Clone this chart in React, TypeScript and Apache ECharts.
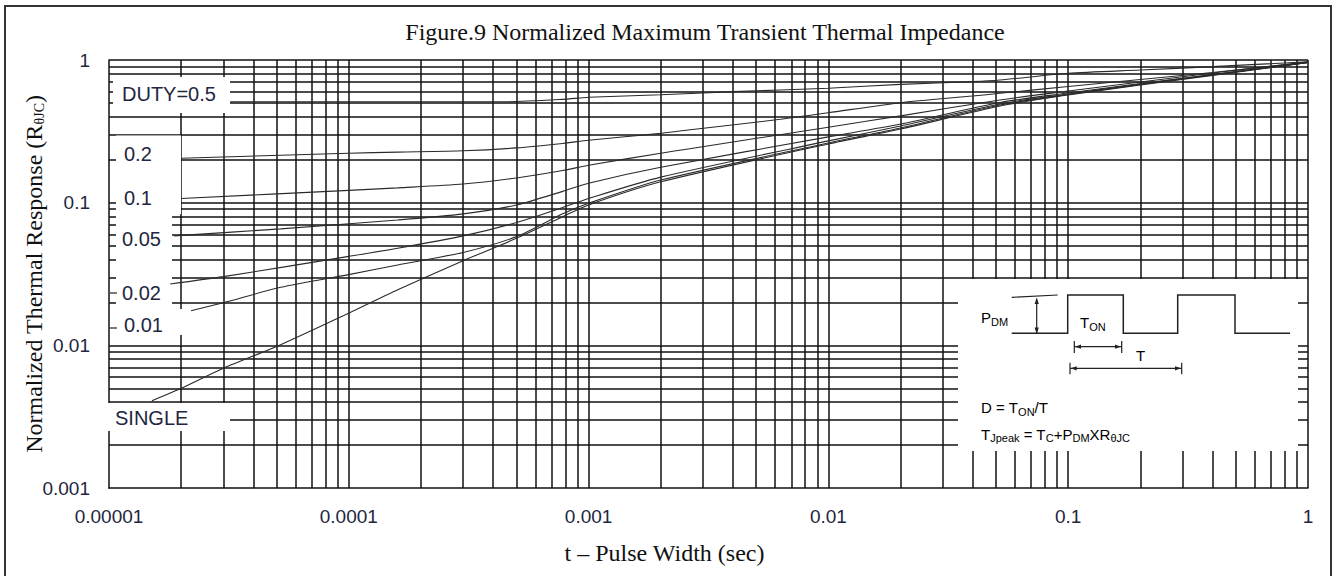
import React, { useEffect, useRef } from "react";
import * as echarts from "echarts";

const TITLE = "Figure.9 Normalized Maximum Transient Thermal Impedance";
const X_NAME = "t – Pulse Width (sec)";
const Y_NAME = "{a|Normalized Thermal Response (R}{b|θJC}{a|)}";
const xTickLabels = ["0.00001", "0.0001", "0.001", "0.01", "0.1", "1"];
const yTickLabels = ["0.001", "0.01", "0.1", "1"];
const gridSteps = [1, 2, 3, 4, 5, 6, 7, 8, 9];
const xDecades = [-5, -4, -3, -2, -1];
const yDecades = [-3, -2, -1];

// [pulse width (s), normalized response]
const duty05 = [[3.2e-5, 0.51], [1e-4, 0.51], [4.5e-4, 0.51], [7.8e-4, 0.53], [1e-3, 0.548], [2e-3, 0.571], [4e-3, 0.6], [1e-2, 0.634], [2e-2, 0.675], [4e-2, 0.705], [5.2e-2, 0.724], [0.1, 0.807], [0.2, 0.851], [0.4, 0.898], [1, 0.973]];
const duty02 = [[2e-5, 0.205], [1e-4, 0.222], [1.6e-4, 0.226], [3e-4, 0.231], [5e-4, 0.242], [7.8e-4, 0.26], [1e-3, 0.274], [2e-3, 0.306], [2.6e-3, 0.323], [6.3e-3, 0.384], [1e-2, 0.427], [2e-2, 0.502], [4e-2, 0.559], [5.2e-2, 0.584], [0.1, 0.652], [0.2, 0.73], [0.4, 0.817], [1, 0.968]];
const duty01 = [[2e-5, 0.107], [1e-4, 0.122], [1.6e-4, 0.127], [3e-4, 0.135], [5e-4, 0.149], [7.8e-4, 0.168], [1e-3, 0.183], [2e-3, 0.222], [2.6e-3, 0.238], [1e-2, 0.338], [2e-2, 0.406], [5.2e-2, 0.525], [0.1, 0.606], [0.2, 0.701], [0.4, 0.811], [1, 0.968]];
const duty005 = [[1.87e-5, 0.0585], [5.2e-5, 0.0655], [1.6e-4, 0.0756], [3e-4, 0.0834], [5e-4, 0.0964], [7.8e-4, 0.12], [1e-3, 0.137], [2e-3, 0.177], [1e-2, 0.289], [2e-2, 0.356], [5.2e-2, 0.504], [0.1, 0.587], [0.2, 0.684], [0.4, 0.79], [1, 0.963]];
const duty002 = [[1.8e-5, 0.0269], [3e-5, 0.0303], [1e-4, 0.042], [1.6e-4, 0.0479], [3e-4, 0.0585], [5e-4, 0.0725], [7.8e-4, 0.0925], [1e-3, 0.107], [2e-3, 0.151], [1e-2, 0.271], [2e-2, 0.345], [5.2e-2, 0.492], [0.1, 0.578], [0.2, 0.679], [0.4, 0.79], [1, 0.963]];
const duty001 = [[2.2e-5, 0.0175], [3e-5, 0.0199], [5.2e-5, 0.0255], [1e-4, 0.0313], [1.6e-4, 0.0366], [3e-4, 0.0448], [5e-4, 0.0578], [7.8e-4, 0.0835], [1e-3, 0.099], [2e-3, 0.144], [1e-2, 0.262], [2e-2, 0.334], [5.2e-2, 0.484], [0.1, 0.573], [0.2, 0.674], [0.4, 0.785], [1, 0.96]];
const single = [[1.51e-5, 0.00409], [2e-5, 0.005], [3e-5, 0.00691], [5.2e-5, 0.0101], [1e-4, 0.0168], [1.6e-4, 0.0245], [3e-4, 0.0392], [5e-4, 0.0563], [7.8e-4, 0.0798], [1e-3, 0.0964], [2e-3, 0.14], [1e-2, 0.258], [2e-2, 0.328], [5.2e-2, 0.476], [0.1, 0.569], [0.2, 0.668], [0.4, 0.78], [1, 0.96]];

const curveNames = ["DUTY=0.5", "0.2", "0.1", "0.05", "0.02", "0.01", "SINGLE"];
const curveData = [duty05, duty02, duty01, duty005, duty002, duty001, single];

const INK = "#111";
const LABEL_INK = "#1e2640";
const SANS = "Liberation Sans";
const SERIF = "Liberation Serif";

export default function App() {
  const ref = useRef<HTMLDivElement>(null);

  useEffect(() => {
    if (!ref.current) return;
    const chart = echarts.init(ref.current, undefined, { renderer: "svg" });

    const xGrid: number[] = [];
    xDecades.forEach((e) => gridSteps.forEach((m) => { if (!(e === -5 && m === 1)) xGrid.push(m * Math.pow(10, e)); }));
    xGrid.push(1);
    const yGrid: number[] = [];
    yDecades.forEach((e) => gridSteps.forEach((m) => { if (!(e === -3 && m === 1)) yGrid.push(m * Math.pow(10, e)); }));
    yGrid.push(1);

    const gridSeries = {
      type: "line",
      name: "grid",
      data: [],
      silent: true,
      z: 1,
      markLine: {
        z: 1,
        silent: true,
        precision: 12,
        symbol: ["none", "none"],
        label: { show: false },
        animation: false,
        lineStyle: { color: INK, width: 1.5, type: "solid" },
        emphasis: { disabled: true },
        data: [
          ...xGrid.map((v) => ({ xAxis: v })),
          ...yGrid.map((v) => ({ yAxis: v })),
        ],
      },
    };

    const curveSeries = curveData.map((d, i) => ({
      type: "line",
      name: curveNames[i],
      data: d,
      showSymbol: false,
      symbol: "none",
      smooth: 0.25,
      silent: true,
      z: 6,
      lineStyle: { color: "#2a2a2a", width: 1.1 },
    }));

    const insetRich = {
      m: { fontFamily: SANS, fontSize: 15, color: "#1a1a1a", lineHeight: 18, verticalAlign: "top" },
      s: { fontFamily: SANS, fontSize: 11, color: "#1a1a1a", lineHeight: 18, verticalAlign: "top", padding: [6, 0, 0, 0] },
    };

    const white = (x: number, y: number, w: number, h: number) => ({
      type: "rect", silent: true, z: 4,
      shape: { x, y, width: w, height: h },
      style: { fill: "#fff", stroke: null },
    });
    const curveLabel = (text: string, x: number, y: number) => ({
      type: "text", silent: true, z: 10, x, y,
      style: { text, fontFamily: SANS, fontSize: 20, fill: LABEL_INK, verticalAlign: "middle", align: "left" },
    });
    const insetText = (text: string, x: number, y: number) => ({
      type: "text", silent: true, z: 10, x, y,
      style: { text, rich: insetRich, verticalAlign: "top", align: "left" },
    });
    const seg = (pts: number[][], w = 1.4) => ({
      type: "polyline", silent: true, z: 10,
      shape: { points: pts },
      style: { stroke: "#222", lineWidth: w, fill: null },
    });
    const head = (pts: number[][]) => ({
      type: "polygon", silent: true, z: 10,
      shape: { points: pts },
      style: { fill: "#222", stroke: null },
    });

    const graphicElements = [
      // outer frame
      { type: "rect", silent: true, z: 0, shape: { x: 5, y: 6, width: 1326, height: 590 }, style: { fill: null, stroke: "#333", lineWidth: 2 } },
      // label boxes that hide the grid
      white(113, 77, 117, 36),
      white(116, 135.5, 65, 78.5),
      white(116, 216, 56, 93),
      white(113, 309, 72, 26),
      white(104, 403, 126, 28),
      // inset box
      white(958, 279, 340, 172),
      curveLabel("DUTY=0.5", 122, 94),
      curveLabel("0.2", 124, 154),
      curveLabel("0.1", 124, 198),
      curveLabel("0.05", 122, 239),
      curveLabel("0.02", 122, 293),
      curveLabel("0.01", 124, 325),
      curveLabel("SINGLE", 115, 418),
      seg([[110, 293], [117, 293]], 1.2),
      seg([[110, 328], [117, 328]], 1.2),
      // pulse waveform
      seg([[1011.7, 333.3], [1067.7, 333.3], [1067.7, 295], [1123.3, 295], [1123.3, 333.3], [1177.7, 333.3], [1177.7, 295], [1235, 295], [1235, 333.3], [1290, 333.3]], 1.5),
      seg([[1011.7, 297.3], [1057.7, 295]], 1.2),
      seg([[1036.7, 299], [1036.7, 333]], 1.2),
      head([[1036.7, 297.5], [1034.6, 304], [1038.8, 304]]),
      head([[1036.7, 334], [1034.6, 327.5], [1038.8, 327.5]]),
      seg([[1074.3, 346.7], [1121.7, 346.7]], 1.2),
      seg([[1074.3, 341], [1074.3, 353]], 1.2),
      seg([[1121.7, 341], [1121.7, 353]], 1.2),
      head([[1075, 346.7], [1081, 344.6], [1081, 348.8]]),
      head([[1121, 346.7], [1115, 344.6], [1115, 348.8]]),
      seg([[1070, 368.3], [1181.7, 368.3]], 1.2),
      seg([[1070, 362.7], [1070, 374.3]], 1.2),
      seg([[1181.7, 362.7], [1181.7, 374.3]], 1.2),
      head([[1070.7, 368.3], [1076.7, 366.2], [1076.7, 370.4]]),
      head([[1181, 368.3], [1175, 366.2], [1175, 370.4]]),
      insetText("{m|P}{s|DM}", 981, 310),
      insetText("{m|T}{s|ON}", 1080, 315),
      insetText("{m|T}", 1136, 348),
      insetText("{m|D = T}{s|ON}{m|/T}", 981, 400),
      insetText("{m|T}{s|Jpeak}{m| = T}{s|C}{m|+P}{s|DM}{m|XR}{s|θJC}", 981, 426.5),
    ];

    const option = {
      animation: false,
      title: {
        text: TITLE,
        left: 700,
        top: 15,
        textAlign: "center",
        textStyle: { fontFamily: SERIF, fontSize: 24, fontWeight: "normal", color: INK },
      },
      grid: { left: 109, top: 60, right: 30, bottom: 88, show: false },
      xAxis: {
        type: "log",
        logBase: 10,
        min: 1e-5,
        max: 1,
        z: 1,
        name: X_NAME,
        nameLocation: "middle",
        nameGap: 53,
        nameMoveOverlap: false,
        nameTextStyle: { fontFamily: SERIF, fontSize: 24, color: INK, padding: [0, 88, 0, 0] },
        axisLine: { show: true, lineStyle: { color: INK, width: 1.5 } },
        axisTick: { show: false },
        splitLine: { show: false },
        axisLabel: {
          margin: 19,
          fontFamily: SANS,
          fontSize: 19,
          color: LABEL_INK,
          showMinLabel: true,
          showMaxLabel: true,
          formatter: (v: number) => xTickLabels[Math.round(Math.log10(v)) + 5] ?? "",
        },
      },
      yAxis: {
        type: "log",
        logBase: 10,
        min: 0.001,
        max: 1,
        z: 1,
        name: Y_NAME,
        nameLocation: "middle",
        nameGap: 60,
        nameMoveOverlap: false,
        nameTextStyle: {
          rich: {
            a: { fontFamily: SERIF, fontSize: 24, color: INK, lineHeight: 27, verticalAlign: "top" },
            b: { fontFamily: SERIF, fontSize: 14, color: INK, lineHeight: 18, verticalAlign: "top", padding: [10, 0, 0, 0] },
          },
        },
        axisLine: { show: true, lineStyle: { color: INK, width: 1.5 } },
        axisTick: { show: false },
        splitLine: { show: false },
        axisLabel: {
          margin: 19,
          fontFamily: SANS,
          fontSize: 19,
          color: LABEL_INK,
          showMinLabel: true,
          showMaxLabel: true,
          formatter: (v: number) => yTickLabels[Math.round(Math.log10(v)) + 3] ?? "",
        },
      },
      series: [gridSeries, ...curveSeries],
      graphic: { elements: graphicElements },
    };

    chart.setOption(option as any);
    return () => chart.dispose();
  }, []);

  return (
    <div
      ref={ref}
      style={{ position: "absolute", left: 0, top: 0, width: 1338, height: 576, background: "#fff" }}
    />
  );
}
